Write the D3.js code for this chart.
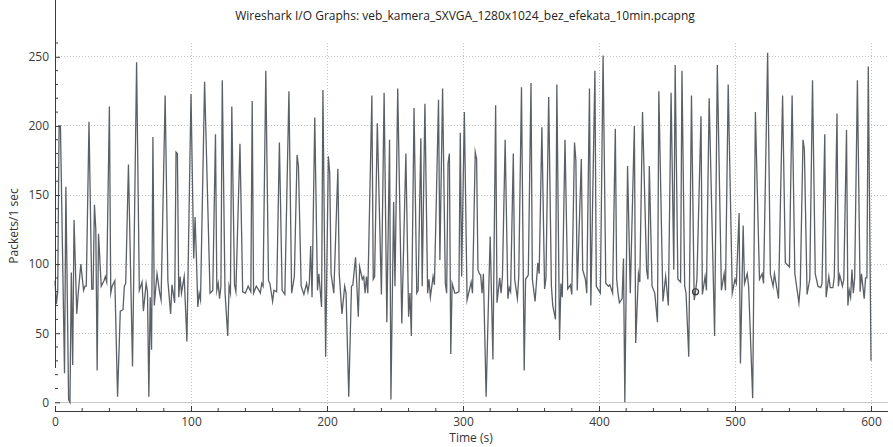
<!DOCTYPE html>
<html><head><meta charset="utf-8">
<script src="https://cdn.jsdelivr.net/npm/d3@7"></script>
<style>
html,body{margin:0;padding:0;background:#fff;}
svg{display:block;font-family:"Segoe UI","Open Sans","Noto Sans",sans-serif;}
</style></head>
<body>
<svg id="chart" width="893" height="447"></svg>
<script>
const title = "Wireshark I/O Graphs: veb_kamera_SXVGA_1280x1024_bez_efekata_10min.pcapng";
const xLabel = "Time (s)";
const yLabel = "Packets/1 sec";
const xTicks = [0, 100, 200, 300, 400, 500, 600];
const yTicks = [0, 50, 100, 150, 200, 250];

// vertices of the packets-per-second trace (time in s)
const times = [0,1,2,3,4,7,8,10,11,12,13,14,16,17,19,21,22,23,25,27,28,29,30,31,32,34,36,37,38,40,41,42,44,46,48,50,51,52,54,57,60,62,64,65,67,68,69,70,71,72,73,75,77,78,81,83,85,86,88,89,90,91,92,93,95,97,100,102,103,104,105,106,107,110,114,116,118,119,120,121,122,123,125,127,128,129,130,132,133,136,138,140,142,144,145,146,148,150,151,152,153,155,157,158,160,161,163,165,167,169,172,174,176,178,179,181,183,185,186,187,188,189,191,193,194,196,197,199,201,202,203,205,208,209,211,213,214,216,218,219,221,223,224,226,227,228,229,230,233,234,235,237,240,242,244,246,247,249,250,252,255,258,260,261,262,264,266,267,269,270,272,274,275,276,278,279,282,283,285,287,288,289,290,291,292,294,295,297,298,299,301,303,306,307,309,310,311,312,313,314,315,317,319,320,322,324,325,327,328,329,331,333,334,335,337,338,340,341,343,345,346,348,350,351,353,355,356,358,360,361,363,365,366,368,369,371,372,373,375,377,379,380,382,383,384,387,388,390,391,393,394,397,398,401,403,405,407,408,410,412,413,414,415,417,418,419,421,423,426,427,429,430,432,435,436,437,439,441,443,444,447,449,451,453,455,456,458,460,461,463,464,466,468,470,471,472,475,476,478,479,481,485,487,490,492,493,495,498,499,500,501,503,504,506,507,509,510,513,515,518,520,521,524,526,528,529,532,535,537,540,542,544,547,548,550,551,553,555,557,559,561,563,564,566,567,569,570,572,573,575,576,577,579,580,582,583,584,585,586,587,588,590,592,593,595,596,597,598,600];
const packets = [88,71,80,200,200,21,156,2,0,94,27,132,64,78,100,81,84,84,203,82,82,143,125,23,122,84,88,91,87,214,79,84,88,4,66,67,84,86,172,26,246,81,87,66,86,80,4,76,38,192,70,93,79,74,222,88,64,85,72,181,180,76,91,79,91,44,223,104,134,104,69,79,74,232,79,81,194,81,86,75,84,233,80,48,84,79,214,85,80,187,80,79,84,80,218,79,84,81,79,86,84,240,88,86,73,81,80,188,81,78,225,79,91,179,171,84,78,86,80,86,113,76,206,81,93,69,226,33,178,166,93,79,169,93,64,84,79,4,84,85,105,62,98,89,91,79,91,79,222,89,91,202,78,224,58,190,2,145,84,227,57,180,62,79,48,213,79,81,191,84,216,79,89,76,91,85,219,103,227,86,79,173,180,35,86,79,79,80,195,91,210,74,87,79,181,176,96,93,92,79,93,4,84,120,31,215,72,90,79,91,190,75,83,80,180,89,75,91,228,23,89,92,231,89,73,101,93,199,82,90,221,84,70,60,230,45,86,76,190,82,85,78,188,175,81,176,96,89,79,227,70,240,84,79,251,86,84,85,79,198,89,79,72,75,104,0,171,79,200,43,93,87,210,96,89,171,84,79,58,225,73,91,70,224,96,244,89,87,240,84,79,33,222,74,80,89,207,78,91,81,220,48,244,81,93,81,230,79,84,89,86,137,28,128,86,93,84,3,210,89,93,86,253,93,84,93,75,222,101,98,222,93,72,84,190,183,78,89,233,93,84,83,86,194,76,91,83,83,91,209,84,92,84,89,197,70,81,76,96,79,90,233,80,93,75,90,90,243,30];
const tracerTime = 471;
const tracerValue = 80;

const svg = d3.select("#chart");
const x = d3.scaleLinear().domain([0, 612.5]).range([55, 888]);
const y = d3.scaleLinear().domain([-6.3, 260]).range([411, 43]);

// gridlines
const grid = svg.append("g");
grid.selectAll("line.h").data(yTicks.filter(d => d !== 0)).join("line")
  .attr("x1", 55).attr("x2", 888).attr("y1", d => y(d)).attr("y2", d => y(d))
  .attr("stroke", "#c4c4c4").attr("stroke-width", 1).attr("stroke-dasharray", "1,2")
  .attr("shape-rendering", "crispEdges");
grid.selectAll("line.v").data(xTicks.filter(d => d !== 0)).join("line")
  .attr("y1", 43).attr("y2", 411).attr("x1", d => Math.round(x(d)) + 0.5).attr("x2", d => Math.round(x(d)) + 0.5)
  .attr("stroke", "#c4c4c4").attr("stroke-width", 1).attr("stroke-dasharray", "1,2");
// zero line
grid.append("line").attr("x1", 55).attr("x2", 888).attr("y1", Math.round(y(0)) + 0.5).attr("y2", Math.round(y(0)) + 0.5)
  .attr("stroke", "#c8c8c8").attr("stroke-width", 1);

// data line
const pts = times.map((t, i) => [t, packets[i]]);
const line = d3.line().x(d => x(d[0])).y(d => y(d[1]));
svg.append("path").datum(pts).attr("d", line)
  .attr("fill", "none").attr("stroke", "#5a6066").attr("stroke-width", 1.3)
  .attr("stroke-linejoin", "miter").attr("stroke-miterlimit", 10);

// tracer
svg.append("circle").attr("cx", x(tracerTime)).attr("cy", y(tracerValue)).attr("r", 3)
  .attr("fill", "none").attr("stroke", "#333").attr("stroke-width", 1.2);

// axes
const xAxis = d3.axisBottom(x).tickValues(xTicks).tickSizeInner(-5).tickSizeOuter(0).tickPadding(6);
const gx = svg.append("g").attr("transform", "translate(0,411)").call(xAxis);
const yAxis = d3.axisLeft(y).tickValues(yTicks).tickSizeInner(-5).tickSizeOuter(0).tickPadding(6);
const gy = svg.append("g").attr("transform", "translate(55,0)").call(yAxis);
[gx, gy].forEach(g => {
  g.select(".domain").attr("stroke", "#3a3a3a");
  g.selectAll(".tick line").attr("stroke", "#3a3a3a");
  g.selectAll(".tick text").attr("fill", "#3a3a3a").attr("font-size", 12)
    .attr("font-family", "'Segoe UI','Open Sans','Noto Sans',sans-serif");
});
gx.select(".domain").attr("d", "M55,0.5H888");
gy.select(".domain").attr("d", "M0.5,0V368");

// minor ticks
const xMinor = d3.range(0, 620, 20).filter(v => v % 100 !== 0 && x(v) < 888);
svg.append("g").selectAll("line").data(xMinor).join("line")
  .attr("x1", d => x(d)).attr("x2", d => x(d)).attr("y1", 411).attr("y2", 408)
  .attr("stroke", "#3a3a3a");
const yMinor = d3.range(0, 261, 10).filter(v => v % 50 !== 0);
svg.append("g").selectAll("line").data(yMinor).join("line")
  .attr("x1", 55).attr("x2", 58).attr("y1", d => y(d)).attr("y2", d => y(d))
  .attr("stroke", "#3a3a3a");

// titles
svg.append("text").attr("x", 465).attr("y", 20).attr("text-anchor", "middle")
  .attr("font-size", 12).attr("fill", "#222").text(title);
svg.append("text").attr("x", 471).attr("y", 442).attr("text-anchor", "middle")
  .attr("font-size", 12).attr("fill", "#333").text(xLabel);
svg.append("text").attr("transform", "translate(18,226) rotate(-90)").attr("text-anchor", "middle")
  .attr("font-size", 12).attr("fill", "#333").text(yLabel);
</script>
</body></html>
